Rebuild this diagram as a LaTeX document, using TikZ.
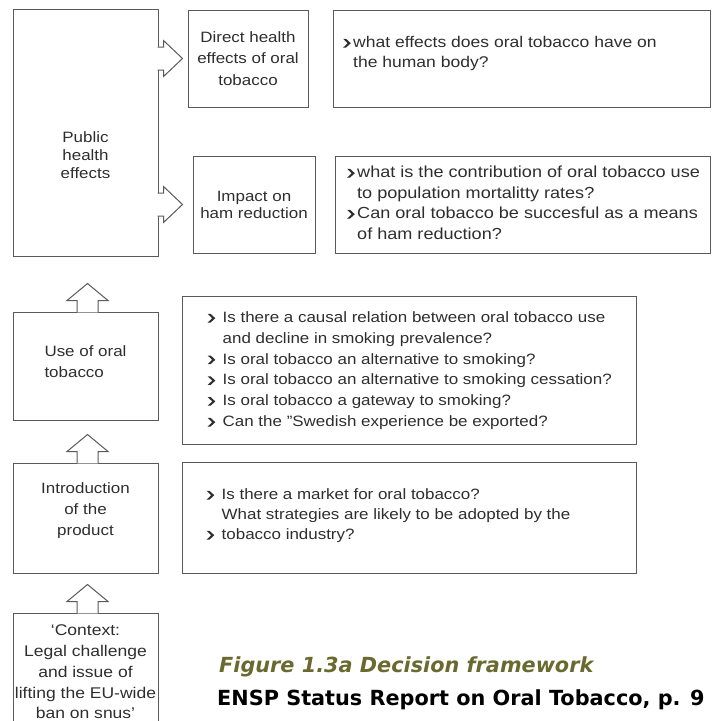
\documentclass[tikz,border=0pt]{standalone}
\usepackage{fontspec}
\setmainfont{Liberation Sans}[FakeStretch=1.13]
\newfontfamily\capfont{DejaVu Sans}
\usetikzlibrary{calc}

\definecolor{linegray}{HTML}{5A5A5A}
\definecolor{inkgray}{HTML}{2E2E2E}
\definecolor{capolive}{HTML}{6A6A30}

% bullet of the question boxes: a heavy chevron
\newcommand{\chev}[1]{\makebox[#1][l]{\tikz[x=1pt,y=1pt,baseline=0pt]
  \fill[inkgray] (0,0) -- (2.9,0) -- (7.6,4.3) -- (2.9,8.6) -- (0,8.6) -- (4.5,4.3) -- cycle;}}

% hollow block arrows cut into the box outlines
\newcommand{\upblock}[1]{%
  \filldraw[blockarrow] ($(#1.north)+(-8.5,0.8)$) -- ++(0,-11.8) -- ++(-10,0)
    -- ++(20.5,-17) -- ++(20.5,17) -- ++(-10,0) -- ++(0,11.8);}
\newcommand{\rightblock}[2]{%
  \filldraw[blockarrow] ($(#1.east |- #2.west)+(-0.8,-11.5)$) -- ++(5.8,0) -- ++(0,-6.5)
    -- ++(19,18) -- ++(-19,18) -- ++(0,-6.5) -- ++(-5.8,0);}

\tikzset{
  box/.style={draw=linegray, line width=1pt, inner sep=0pt},
  boxtext/.style={text=inkgray, inner sep=0pt, align=center},
  qtext/.style={text=inkgray, inner sep=0pt, anchor=base west},
  blockarrow/.style={draw=linegray, fill=white, line width=1pt, line join=miter},
}

\begin{document}
\begin{tikzpicture}[x=1pt, y=-1pt]
    \useasboundingbox (0,0) rectangle (712,721);
    \clip (0,0) rectangle (712,721);

    % --- Left column ---
    \node[box, minimum width=145pt, minimum height=247pt] (pub) at (85.5,132.5) {};
    \node[box, minimum width=145pt, minimum height=108pt] (use) at (85.5,366) {};
    \node[box, minimum width=145pt, minimum height=110pt] (intro) at (85.5,518) {};
    \node[box, minimum width=145pt, minimum height=118pt] (context) at (85.5,672) {};

    \node[boxtext, font=\fontsize{15}{18}\selectfont] (pubtxt) at ($(pub.center)+(0,22.5)$) {Public\\health\\effects};
    \node[boxtext, align=left, font=\fontsize{15}{21}\selectfont] (usetxt) at ($(use.center)+(0,-4)$) {Use of oral\\tobacco};
    \node[boxtext, font=\fontsize{15}{21}\selectfont] (introtxt) at ($(intro.center)+(0,-7)$) {Introduction\\of the\\product};
    \node[boxtext, font=\fontsize{15.5}{20.7}\selectfont] (contexttxt) at (context.center) {‘Context:\\Legal challenge\\and issue of\\lifting the EU-wide\\ban on snus’};

    % --- Middle column ---
    \node[box, minimum width=120pt, minimum height=97pt, boxtext, font=\fontsize{15}{21.5}\selectfont] (direct) at (248,58.5) {Direct health\\effects of oral\\tobacco};
    \node[box, minimum width=122pt, minimum height=97pt, boxtext, font=\fontsize{15}{17}\selectfont] (impact) at (254,204.5) {Impact on\\ham reduction};

    % --- Question boxes ---
    \node[box, minimum width=377pt, minimum height=97pt] (q1) at (522,58.5) {};
    \node[box, minimum width=375pt, minimum height=97pt] (q2) at (523,204.5) {};
    \node[box, minimum width=454pt, minimum height=148pt] (q3) at (409,370) {};
    \node[box, minimum width=454pt, minimum height=111pt] (q4) at (409,517.5) {};

    \node[qtext, font=\fontsize{15.5}{20}\selectfont] (q1txt) at ($(q1.north west)+(10,38)$) {%
      \begin{tabular}[t]{@{}l@{}l@{}}
        \chev{10pt} & what effects does oral tobacco have on\\
                    & the human body?
      \end{tabular}};
    \node[qtext, font=\fontsize{16}{20.5}\selectfont] (q2txt) at ($(q2.north west)+(12,22)$) {%
      \begin{tabular}[t]{@{}l@{}l@{}}
        \chev{10pt} & what is the contribution of oral tobacco use\\
                    & to population mortalitty rates?\\
        \chev{10pt} & Can oral tobacco be succesful as a means\\
                    & of ham reduction?
      \end{tabular}};
    \node[qtext, font=\fontsize{15}{20.8}\selectfont] (q3txt) at ($(q3.north west)+(26,27)$) {%
      \begin{tabular}[t]{@{}l@{}l@{}}
        \chev{15pt} & Is there a causal relation between oral tobacco use\\
                    & and decline in smoking prevalence?\\
        \chev{15pt} & Is oral tobacco an alternative to smoking?\\
        \chev{15pt} & Is oral tobacco an alternative to smoking cessation?\\
        \chev{15pt} & Is oral tobacco a gateway to smoking?\\
        \chev{15pt} & Can the "Swedish experience be exported?
      \end{tabular}};
    \node[qtext, font=\fontsize{15}{20}\selectfont] (q4txt) at ($(q4.north west)+(25,38)$) {%
      \begin{tabular}[t]{@{}l@{}l@{}}
        \chev{15pt} & Is there a market for oral tobacco?\\
                    & What strategies are likely to be adopted by the\\
        \chev{15pt} & tobacco industry?
      \end{tabular}};

    % --- Block arrows ---
    \foreach \b in {use,intro,context} {\upblock{\b}}
    \foreach \t in {direct,impact} {\rightblock{pub}{\t}}

    % --- Caption ---
    \node[anchor=base west, inner sep=0pt, text=capolive, font=\capfont\fontsize{20.8}{20.8}\selectfont\bfseries\itshape] (figcap) at (219,672) {Figure 1.3a Decision framework};
    \node[anchor=base west, inner sep=0pt, text=black, font=\capfont\fontsize{20.8}{20.8}\selectfont\bfseries] (source) at (217,705) {ENSP Status Report on Oral Tobacco, p. 9};
\end{tikzpicture}
\end{document}
